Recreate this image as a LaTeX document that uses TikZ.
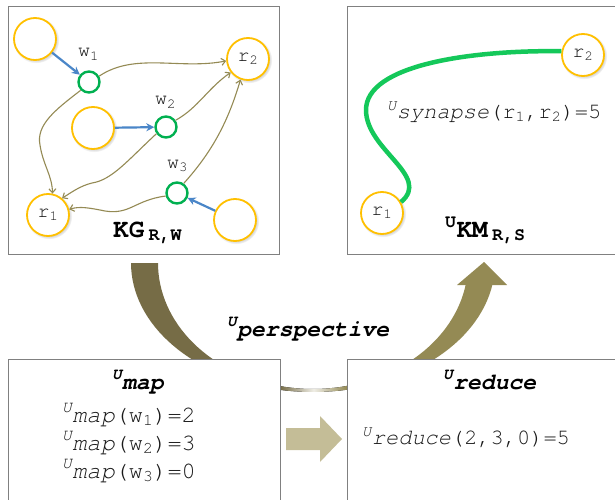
\documentclass[tikz,border=0pt]{standalone}
\usepackage{fontspec}
\setmainfont{Liberation Serif}
\newfontfamily\cour{TeX Gyre Cursor}
\usetikzlibrary{arrows.meta,shadows,fadings}
\definecolor{ogold}{RGB}{255,192,0}
\definecolor{wgreen}{RGB}{0,176,80}
\definecolor{sgreen}{RGB}{20,200,90}
\definecolor{lblue}{RGB}{74,134,200}
\definecolor{olivec}{RGB}{148,138,84}
\definecolor{darkolive}{RGB}{118,108,70}
\definecolor{tanc}{RGB}{196,189,151}
\definecolor{boxgray}{RGB}{128,128,128}
\definecolor{txt}{RGB}{25,25,25}
\begin{document}
\begin{tikzpicture}[x=1pt,y=-1pt,
 ocirc/.style={circle, draw=ogold, line width=1.8pt, minimum size=42pt, inner sep=0pt, fill=white,
   circular drop shadow={shadow xshift=1pt, shadow yshift=-1pt, shadow scale=1.1, opacity=0.35},
   font=\cour\fontsize{20}{20}\selectfont, text=txt},
 gcirc/.style={circle, draw=wgreen, line width=2.4pt, minimum size=21pt, inner sep=0pt, fill=white},
 barrow/.style={draw=lblue, line width=2.2pt, -{Stealth[length=8pt,width=8pt]}},
 oarrow/.style={draw=olivec, line width=1.1pt, -{Straight Barb[length=4pt,width=7pt]}},
 panel/.style={draw=boxgray, line width=1.1pt, fill=white, anchor=north west, inner sep=0pt},
 lbl/.style={font=\cour\fontsize{20}{20}\selectfont, text=txt, inner sep=0pt, anchor=base west},
 mtxt/.style={font=\cour\fontsize{22}{22}\selectfont, text=txt, inner sep=0pt, anchor=base west},
 mapt/.style={font=\cour\fontsize{23.5}{23.5}\selectfont, text=txt, inner sep=0pt, anchor=base west},
 ttl/.style={font=\cour\bfseries\itshape\fontsize{23}{23}\selectfont, inner sep=0pt, anchor=base west},
 kgl/.style={font=\cour\bfseries\fontsize{26}{26}\selectfont, inner sep=0pt, anchor=base west},
 syn/.style={draw=sgreen, line width=4.5pt}
]
\useasboundingbox (0,0) rectangle (615,500);

% big perspective arrow
\begin{scope}
\clip (0,0) rectangle (280,500);
\fill[darkolive] plot[domain=180:9.37, samples=70] ({313+182*cos(\x)},{263+129*sin(\x)})
  -- plot[domain=9.6:180, samples=70] ({313+155*cos(\x)},{263+126*sin(\x)}) -- cycle;
\end{scope}
\begin{scope}
\clip plot[domain=180:9.37, samples=70] ({313+182*cos(\x)},{263+129*sin(\x)})
  -- plot[domain=9.6:180, samples=70] ({313+155*cos(\x)},{263+126*sin(\x)}) -- cycle;
\fill[left color=darkolive, right color=olivec, middle color=white!85!olivec] (280,360) rectangle (347,400);
\end{scope}
\begin{scope}
\clip (347,0) rectangle (615,500);
\fill[olivec] plot[domain=180:9.37, samples=70] ({313+182*cos(\x)},{263+129*sin(\x)})
  -- plot[domain=9.6:180, samples=70] ({313+155*cos(\x)},{263+126*sin(\x)}) -- cycle;
\end{scope}
\fill[olivec] (457,285) -- (507,285) -- (484,262) -- cycle;

% panels
\node[panel, minimum width=271pt, minimum height=248pt] (pkg) at (8,6) {};
\node[panel, minimum width=275pt, minimum height=248pt] (pkm) at (347,6) {};
\node[panel, minimum width=272pt, minimum height=150pt] (pmap) at (8,359) {};
\node[panel, minimum width=275pt, minimum height=150pt] (pred) at (347,359) {};

% KG panel
\node[ocirc] (o1) at (35,39) {};
\node[ocirc] (o2) at (93,128) {};
\node[ocirc] (o3) at (235,220) {};
\node[ocirc] (r1) at (48,215) {r\textsubscript{1}};
\node[ocirc] (r2) at (248,59) {r\textsubscript{2}};
\node[gcirc] (w1) at (89,82) {};
\node[gcirc] (w2) at (166,127) {};
\node[gcirc] (w3) at (177,193) {};
\node[lbl] (lw1) at (78,57) {w\textsubscript{1}};
\node[lbl] (lw2) at (155,105) {w\textsubscript{2}};
\node[lbl] (lw3) at (167,168) {w\textsubscript{3}};
\draw[barrow] (o1) -- (w1);
\draw[barrow] (o2) -- (w2);
\draw[barrow] (o3) -- (w3);
\draw[oarrow] (w1.30) .. controls (135,52) and (180,70) .. (r2.185);
\draw[oarrow] (w1.225) .. controls (55,110) and (36,125) .. (40,145) .. controls (43,165) and (52,175) .. (r1.78);
\draw[oarrow] (w2.35) .. controls (198,108) and (208,88) .. (r2.218);
\draw[oarrow] (w2.215) .. controls (128,160) and (112,180) .. (92,183) .. controls (80,186) and (72,192) .. (r1.50);
\draw[oarrow] (w3.55) .. controls (212,152) and (228,122) .. (r2.250);
\draw[oarrow] (w3.195) .. controls (135,200) and (130,215) .. (105,211) .. controls (90,208) and (80,206) .. (r1.15);
\node[kgl] (kg) at (113,237) {KG\,\textsubscript{R,W}};

% KM panel
\node[ocirc] (r1b) at (382,213) {r\textsubscript{1}};
\node[ocirc] (r2b) at (583,55) {r\textsubscript{2}};
\draw[syn] (r1b.30) .. controls (432,176) and (366,150) .. (366,110) .. controls (366,65) and (470,50) .. (r2b.170);
\node[mtxt] (synl) at (387,118) {\textsuperscript{\itshape U}{\itshape synapse}(r\textsubscript{1},r\textsubscript{2})=5};
\node[kgl] (km) at (445,237) {\textsuperscript{U}KM\,\textsubscript{R,S}};

% perspective label
\node[ttl] (persp) at (227,336) {\textsuperscript{U}perspective};

% map panel
\node[ttl] (tmap) at (112,389) {\textsuperscript{U}map};
\node[mapt] (m1) at (62,422) {\textsuperscript{\itshape U}{\itshape map}(w\textsubscript{1})=2};
\node[mapt] (m2) at (62,450) {\textsuperscript{\itshape U}{\itshape map}(w\textsubscript{2})=3};
\node[mapt] (m3) at (62,478) {\textsuperscript{\itshape U}{\itshape map}(w\textsubscript{3})=0};

% reduce panel
\node[ttl] (tred) at (443,389) {\textsuperscript{U}reduce};
\node[mtxt] (rl) at (362,444) {\textsuperscript{\itshape U}{\itshape reduce}(2,3,0)=5};

% small arrow
\fill[tanc] (286,428) -- (320,428) -- (320,416) -- (342,439) -- (320,462) -- (320,450) -- (286,450) -- cycle;
\end{tikzpicture}
\end{document}
